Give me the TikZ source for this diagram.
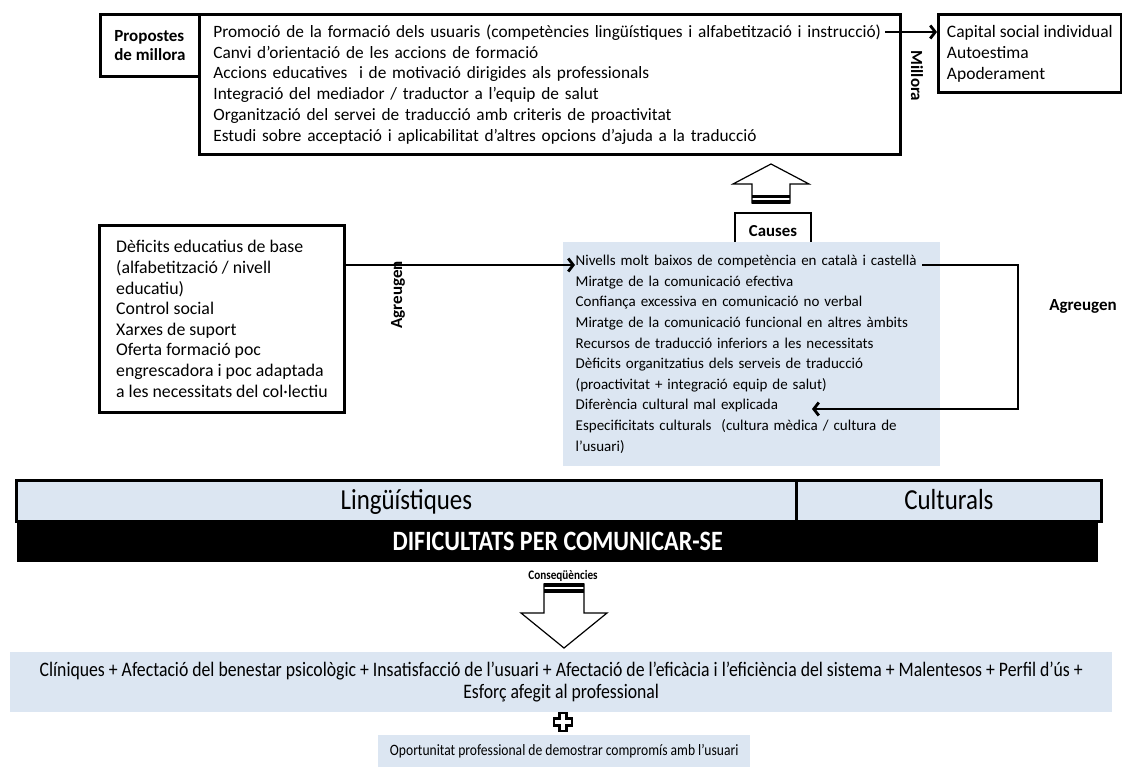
\documentclass[tikz,border=0pt]{standalone}
\usepackage{fontspec}
\setmainfont{Carlito}
\newfontfamily\condf[FakeStretch=0.86]{Carlito}
\usetikzlibrary{arrows.meta}
\definecolor{lblue}{RGB}{220,230,242}
\begin{document}
\begin{tikzpicture}[x=1pt,y=-1pt,
  bx/.style={draw=black, line width=2.8pt, align=left, inner ysep=0pt},
  lbl/.style={font=\bfseries\fontsize{17}{19}\selectfont},
  conn/.style={line width=2.8pt, -{Straight Barb[length=5pt,width=13pt]}},
  blk/.style={line width=1.2pt, fill=white, draw=black},
  bluebox/.style={fill=lblue, inner ysep=0pt},
  barcell/.style={draw=black, line width=2.8pt, fill=lblue, anchor=north west, minimum height=41pt, inner ysep=0pt, text height=19pt, text depth=2pt, font=\condf\fontsize{29}{30}\selectfont}]
\useasboundingbox (0,0) rectangle (1122,767);
\fill[white] (0,0) rectangle (1122,767);

% top
\node[bx, anchor=north west, minimum width=99pt, minimum height=62pt, font=\bfseries\fontsize{17}{19.5}\selectfont] (prop) at (99,13) {Propostes\\de millora};
\node[bx, anchor=north west, minimum width=701pt, minimum height=140pt, text width=673pt, inner xsep=14pt, font=\fontsize{17.3}{20.8}\selectfont] (main) at (198,13)
 {Promoció de la formació dels usuaris (competències lingüístiques i alfabetització i instrucció)\\
  Canvi d’orientació de les accions de formació\\
  Accions educatives\ \ i de motivació dirigides als professionals\\
  Integració del mediador / traductor a l’equip de salut\\
  Organització del servei de traducció amb criteris de proactivitat\\
  Estudi sobre acceptació i aplicabilitat d’altres opcions d’ajuda a la traducció};
\node[bx, anchor=north west, minimum width=183pt, minimum height=78pt, inner xsep=5pt, font=\fontsize{17.5}{21}\selectfont] (cap) at (937,13)
 {Capital social individual\\Autoestima\\Apoderament};
\coordinate (m1) at (885,32);
\draw[conn] (m1) -- (cap.west |- m1);
\node[lbl, rotate=-90] (millora) at (917,76) {Millora};

% up block arrow
\draw[blk] (752,203) -- (752,184) -- (733,184) -- (771,164) -- (809,184) -- (790,184) -- (790,203) -- cycle;
\fill[black] (752,195) rectangle (790,198.5);
\fill[black] (752,200.5) rectangle (790,204);

% causes
\node[bx, minimum width=76pt, minimum height=36pt, align=center, font=\bfseries\fontsize{16.8}{18}\selectfont] (causes) at (773,231) {Causes};
\node[bluebox, anchor=north west, minimum width=377pt, minimum height=224pt, text width=352pt, inner xsep=12pt, font=\fontsize{15}{20.6}\selectfont, align=left] (cau) at (563,242)
 {Nivells molt baixos de competència en català i castellà\\
  Miratge de la comunicació efectiva\\
  Confiança excessiva en comunicació no verbal\\
  Miratge de la comunicació funcional en altres àmbits\\
  Recursos de traducció inferiors a les necessitats\\
  Dèficits organitzatius dels serveis de traducció\\
  (proactivitat + integració equip de salut)\\
  Diferència cultural mal explicada\\
  Especificitats culturals\ \ (cultura mèdica / cultura de\\
  l’usuari)};

% left box
\node[bx, anchor=north west, minimum width=245pt, minimum height=187pt, inner xsep=8pt, font=\fontsize{17.8}{20.6}\selectfont] (left) at (98,224)
 {Dèficits educatius de base\\
  (alfabetització / nivell\\
  educatiu)\\
  Control social\\
  Xarxes de suport\\
  Oferta formació poc\\
  engrescadora i poc adaptada\\
  a les necessitats del col·lectiu};
\coordinate (n1) at (575,265);
\draw[conn] (left.east |- n1) -- (n1);
\node[lbl, rotate=90] (agl) at (398,295) {Agreugen};

% right connector
\coordinate (c1) at (922,265);
\coordinate (c2) at (812,409);
\draw[conn] (c1) -- (1018,265) |- (c2);
\node[lbl] (agr) at (1083,306) {Agreugen};

% bars
\node[barcell, minimum width=780pt] (ling) at (15,479) {Lingüístiques};
\node[barcell, minimum width=305pt] (cult) at (795,479) {Culturals};
\node[fill=black, text=white, anchor=north west, minimum width=1081pt, minimum height=42pt, inner ysep=0pt, font=\condf\bfseries\fontsize{28}{30}\selectfont] (dif) at (17,520) {DIFICULTATS PER COMUNICAR-SE};

\node[font=\condf\bfseries\fontsize{13}{15}\selectfont] (conseq) at (563,576) {Conseqüències};

% down block arrow
\draw[blk] (544,584) -- (584,584) -- (584,613) -- (607,613) -- (564,648) -- (521,613) -- (544,613) -- cycle;
\fill[black] (544,583) rectangle (584,587);
\fill[black] (544,589) rectangle (584,593);

\node[bluebox, anchor=north west, minimum width=1102pt, minimum height=60pt, align=center, font=\condf\fontsize{20.6}{22}\selectfont] (cons) at (10,652)
 {Clíniques + Afectació del benestar psicològic + Insatisfacció de l’usuari + Afectació de l’eficàcia i l’eficiència del sistema + Malentesos + Perfil d’ús +\\
  Esforç afegit al professional};

% plus
\draw[line width=2.4pt, fill=white] (559.5,713) -- (566.5,713) -- (566.5,718.5) -- (572,718.5) -- (572,725.5) -- (566.5,725.5) -- (566.5,731) -- (559.5,731) -- (559.5,725.5) -- (554,725.5) -- (554,718.5) -- (559.5,718.5) -- cycle;

\node[bluebox, anchor=north west, minimum width=372pt, minimum height=32pt, font=\condf\fontsize{15.8}{20}\selectfont] (opor) at (378,735)
 {Oportunitat professional de demostrar compromís amb l’usuari};
\end{tikzpicture}
\end{document}
